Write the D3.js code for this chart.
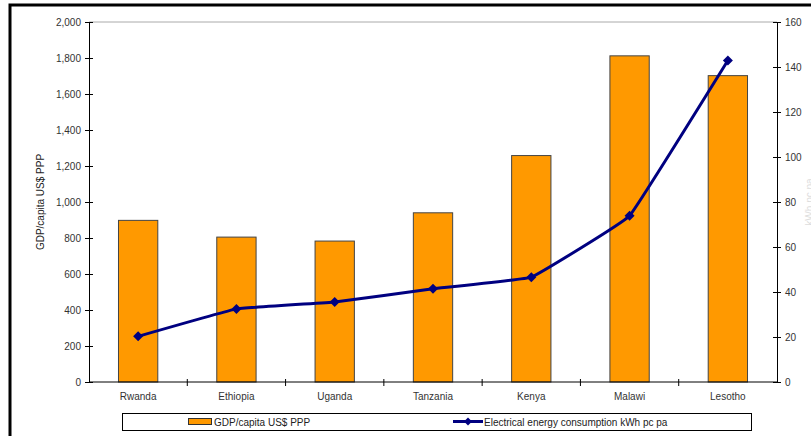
<!DOCTYPE html>
<html>
<head>
<meta charset="utf-8">
<script src="https://cdn.jsdelivr.net/npm/d3@7"></script>
<style>
  body { margin: 0; background: #fff; }
  svg { display: block; font-family: "Liberation Sans", Arial, sans-serif; }
</style>
</head>
<body>
<div id="chart"></div>
<script>
// countries along the x axis
let countries = ["Rwanda", "Ethiopia", "Uganda", "Tanzania", "Kenya", "Malawi", "Lesotho"];
// bars, left axis
let gdp = [898, 805, 783, 940, 1258, 1812, 1702];
// line, right axis
let energy = [20.3, 32.5, 35.6, 41.4, 46.6, 73.9, 142.9];
let leftTicks = [0, 200, 400, 600, 800, 1000, 1200, 1400, 1600, 1800, 2000];
let rightTicks = [0, 20, 40, 60, 80, 100, 120, 140, 160];

let width = 811, height = 436;
let x0 = 89, x1 = 777, yTop = 22, yBot = 382;

let svg = d3.select("#chart").append("svg")
  .attr("width", width)
  .attr("height", height);

// outer frame (only top and left are inside the picture)
svg.append("path")
  .attr("d", `M10,${height} L10,5 L${width},5`)
  .attr("fill", "none")
  .attr("stroke", "#000")
  .attr("stroke-width", 3);

let x = d3.scaleBand()
  .domain(countries)
  .range([x0, x1])
  .paddingInner(0.6)
  .paddingOuter(0.3);

let yL = d3.scaleLinear().domain([0, 2000]).range([yBot, yTop]);
let yR = d3.scaleLinear().domain([0, 160]).range([yBot, yTop]);

// plot area top border
svg.append("line")
  .attr("x1", x0).attr("x2", x1)
  .attr("y1", yTop).attr("y2", yTop)
  .attr("stroke", "#aaa");

// bars
svg.selectAll("rect.bar")
  .data(countries)
  .enter()
  .append("rect")
    .attr("class", "bar")
    .attr("x", d => x(d))
    .attr("y", (d, i) => yL(gdp[i]))
    .attr("width", x.bandwidth())
    .attr("height", (d, i) => yBot - yL(gdp[i]))
    .attr("fill", "#ff9900")
    .attr("stroke", "#444")
    .attr("stroke-width", 1);

// axes
let axeL = d3.axisLeft(yL).tickValues(leftTicks).tickFormat(d3.format(",")).tickSizeInner(4).tickSizeOuter(0);
let gL = svg.append("g").attr("transform", `translate(${x0},0)`).call(axeL);

let axeR = d3.axisRight(yR).tickValues(rightTicks).tickSizeInner(4).tickSizeOuter(0);
let gR = svg.append("g").attr("transform", `translate(${x1},0)`).call(axeR);

// x axis: ticks on band boundaries
let bounds = countries.map((c, i) => x0 + (x1 - x0) * i / countries.length).slice(1);
let gX = svg.append("g").attr("transform", `translate(0,${yBot})`);
gX.append("line").attr("x1", x0).attr("x2", x1).attr("stroke", "#000");
gX.selectAll("line.tk")
  .data(bounds)
  .enter()
  .append("line")
    .attr("class", "tk")
    .attr("x1", d => d).attr("x2", d => d)
    .attr("y1", -3).attr("y2", 4)
    .attr("stroke", "#000");
gX.selectAll("text")
  .data(countries)
  .enter()
  .append("text")
    .attr("x", d => x(d) + x.bandwidth() / 2)
    .attr("y", 18)
    .attr("text-anchor", "middle")
    .attr("font-size", 10)
    .attr("fill", "#333")
    .text(d => d);

// ticks crossing the axis lines
[gL, gR].forEach(g => {
  g.select(".domain").attr("stroke", "#000");
  g.selectAll(".tick line").attr("stroke", "#000");
  g.selectAll(".tick text").attr("font-size", 10).attr("fill", "#333").attr("font-family", "Liberation Sans, Arial, sans-serif");
});
gL.selectAll(".tick line").attr("x1", 4).attr("x2", -4);
gL.selectAll(".tick text").attr("x", -8);
gR.selectAll(".tick line").attr("x1", -4).attr("x2", 4);
gR.selectAll(".tick text").attr("x", 8);

// axis title
svg.append("text")
  .attr("transform", `translate(44,${(yTop + yBot) / 2}) rotate(-90)`)
  .attr("text-anchor", "middle")
  .attr("font-size", 10)
  .attr("fill", "#222")
  .text("GDP/capita US$ PPP");

// right axis title, cut by the window edge as in the source
svg.append("text")
  .attr("transform", `translate(813,${(yTop + yBot) / 2}) rotate(-90)`)
  .attr("text-anchor", "middle")
  .attr("font-size", 10)
  .attr("fill", "#ddd")
  .text("kWh pc pa");

// line, only lightly smoothed
let pts = countries.map((c, i) => [x(c) + x.bandwidth() / 2, yR(energy[i])]);
svg.append("path")
  .attr("d", d3.line().curve(d3.curveCardinal.tension(0.8))(pts))
  .attr("fill", "none")
  .attr("stroke", "#000080")
  .attr("stroke-width", 3);

svg.selectAll("path.mk")
  .data(pts)
  .enter()
  .append("path")
    .attr("class", "mk")
    .attr("transform", d => `translate(${d[0]},${d[1]})`)
    .attr("d", "M0,-5 L5,0 L0,5 L-5,0 Z")
    .attr("fill", "#000080");

// legend
let lg = svg.append("g");
lg.append("rect")
  .attr("x", 122.5).attr("y", 413.5)
  .attr("width", 629).attr("height", 17)
  .attr("fill", "#fff").attr("stroke", "#000");
lg.append("rect")
  .attr("x", 188.5).attr("y", 418.5)
  .attr("width", 23).attr("height", 6)
  .attr("fill", "#ff9900").attr("stroke", "#333");
lg.append("text")
  .attr("x", 214).attr("y", 425.5)
  .attr("font-size", 10).attr("fill", "#222")
  .text("GDP/capita US$ PPP");
lg.append("line")
  .attr("x1", 453).attr("x2", 483)
  .attr("y1", 421.5).attr("y2", 421.5)
  .attr("stroke", "#000080").attr("stroke-width", 3);
lg.append("path")
  .attr("transform", "translate(468,421.5)")
  .attr("d", "M0,-4 L4,0 L0,4 L-4,0 Z")
  .attr("fill", "#000080");
lg.append("text")
  .attr("x", 484).attr("y", 425.5)
  .attr("font-size", 10).attr("fill", "#222")
  .text("Electrical energy consumption kWh pc pa");
</script>
</body>
</html>
